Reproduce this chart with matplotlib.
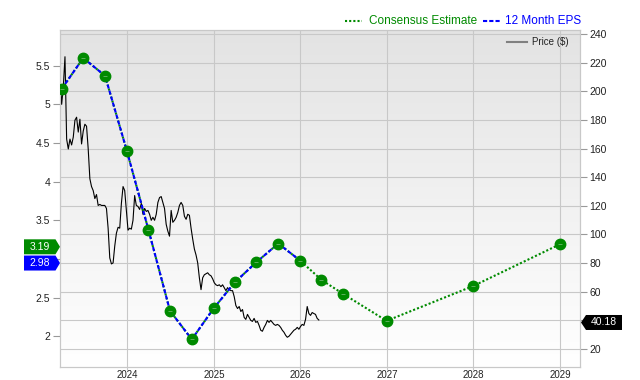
import matplotlib

matplotlib.use("Agg")
import matplotlib.dates as mdates
import matplotlib.pyplot as plt
import matplotlib.transforms as mtransforms
import numpy as np
import pandas as pd
from matplotlib.colors import LinearSegmentedColormap
from matplotlib.lines import Line2D
from matplotlib.patches import Polygon

plt.rcParams["font.family"] = ["Liberation Sans", "DejaVu Sans"]

# 12 month EPS (reported) and consensus estimates, quarter / year ends
eps_dates = pd.to_datetime([
    "2023-03-31", "2023-06-30", "2023-09-30", "2023-12-31",
    "2024-03-31", "2024-06-30", "2024-09-30", "2024-12-31",
    "2025-03-31", "2025-06-30", "2025-09-30", "2025-12-31",
])
eps_values = [5.20, 5.60, 5.37, 4.40, 3.38, 2.33, 1.96, 2.36, 2.70, 2.96, 3.20, 2.98]

est_dates = pd.to_datetime(["2026-03-31", "2026-06-30", "2026-12-31", "2027-12-31", "2028-12-31"])
est_values = [2.73, 2.55, 2.20, 2.65, 3.19]

# weekly closing price
price_start = "2023-03-24"
price_values = [
    210.4, 191.0, 203.5, 224.3, 166.7, 159.8, 166.7, 162.6, 168.1, 179.9,
    182.0, 171.6, 180.6, 163.3, 172.3, 177.1, 175.7, 159.8, 139.0, 133.5,
    130.7, 125.1, 127.9, 120.3, 121.0, 120.3, 120.3, 120.3, 118.2, 104.4,
    83.6, 79.4, 80.1, 91.9, 100.9, 105.0, 104.4, 121.7, 133.5, 130.7,
    116.8, 103.0, 104.4, 103.7, 109.9, 127.2, 120.3, 119.6, 117.5, 121.7,
    114.1, 118.2, 116.1, 116.8, 114.1, 109.9, 112.0, 109.9, 114.1, 122.4,
    125.8, 126.5, 122.4, 118.2, 107.1, 102.3, 98.8, 116.8, 108.5, 109.9,
    112.0, 115.4, 120.3, 122.4, 120.3, 112.7, 110.6, 114.1, 113.4, 104.4,
    96.7, 89.8, 85.6, 80.1, 69.7, 61.4, 69.7, 71.8, 72.5, 73.2,
    71.8, 71.1, 69.0, 66.2, 64.8, 64.2, 64.8, 63.5, 64.8, 62.8,
    60.7, 62.8, 61.4, 60.7, 60.7, 56.5, 50.3, 48.2, 49.6, 46.1,
    47.5, 42.0, 40.6, 44.1, 42.0, 39.9, 39.2, 41.3, 38.5, 39.2,
    36.4, 33.0, 32.3, 35.0, 37.1, 39.9, 38.5, 39.9, 38.5, 37.1,
    36.4, 37.1, 36.4, 35.0, 33.0, 31.6, 29.5, 28.1, 28.8, 30.2,
    31.6, 33.0, 33.7, 35.0, 33.7, 35.7, 37.1, 36.4, 40.6, 49.6,
    44.7, 43.4, 45.4, 44.7, 44.1, 41.3, 40.18,
]
price_dates = pd.date_range(price_start, periods=len(price_values), freq="7D")

eps_ticks = [2, 2.5, 3, 3.5, 4, 4.5, 5, 5.5]
price_ticks = list(range(20, 241, 20))

GREEN = "#008a00"
BLUE = "#0000ff"
GRID = "#c8c8c8"

fig = plt.figure(figsize=(6.4, 3.8), dpi=100)
ax = fig.add_axes([60 / 640, 13 / 380, 520 / 640, 337 / 380])  # price, right axis
ax2 = ax.twinx()  # EPS, left axis

# soft vertical gradient behind the plot
cmap = LinearSegmentedColormap.from_list("bg", ["#ffffff", "#e3e3e3"])
ax.imshow(np.linspace(0, 1, 256)[:, None], extent=(0, 1, 0, 1), origin="lower",
          transform=ax.transAxes, aspect="auto", cmap=cmap, zorder=0)

ax.plot(price_dates, price_values, color="black", lw=0.8, zorder=3)

all_dates = list(eps_dates) + list(est_dates)
all_values = eps_values + est_values
ax2.plot(all_dates, all_values, color=GREEN, lw=1.5, ls=(0, (1, 1)), zorder=2)
ax2.plot(eps_dates, eps_values, color=BLUE, lw=1.5, ls=(0, (2, 1)), zorder=3)
ax2.plot(all_dates, all_values, ls="none", marker="o", ms=7.5, color=GREEN, zorder=4)
ax2.plot(all_dates, all_values, ls="none", marker="_", ms=3.5, mew=0.7,
         color="#5cb05c", zorder=5)

xmin, xmax = pd.Timestamp("2023-03-24"), pd.Timestamp("2029-03-26")
ax.set_xlim(xmin, xmax)
ax.set_ylim(7.3, 243)
ax2.set_ylim(1.603, 5.962)

ax.xaxis.set_major_locator(mdates.YearLocator())
ax.xaxis.set_major_formatter(mdates.DateFormatter("%Y"))
ax.yaxis.tick_right()
ax.set_yticks(price_ticks)
# the 40 label sits under the last price flag
ax.set_yticklabels(["" if t == 40 else str(t) for t in price_ticks])
ax2.yaxis.tick_left()
ax2.set_yticks(eps_ticks)
# the 3 label sits under the EPS flags
ax2.set_yticklabels(["" if t == 3 else f"{t:g}" for t in eps_ticks])

ax.grid(True, color=GRID, lw=0.8, zorder=1)
ax.set_axisbelow(True)
for a in (ax, ax2):
    for s in a.spines.values():
        s.set_color(GRID)
        s.set_linewidth(0.8)
ax.tick_params(axis="x", length=2, pad=0, color=GRID, labelsize=7, labelcolor="#222222")
ax.tick_params(axis="y", length=5, pad=1.5, color="#999999", labelsize=7.5, labelcolor="#222222")
ax2.tick_params(axis="y", length=5, pad=2, color="#999999", labelsize=7.5, labelcolor="#222222")

# legends
ft = fig.transFigure
yl = 1 - 21 / 380
fig.add_artist(Line2D([345 / 640, 362 / 640], [yl, yl], transform=ft, color=GREEN, lw=1.5, ls=(0, (1, 1))))
fig.text(369 / 640, yl, "Consensus Estimate", color=GREEN, fontsize=8.5, va="center")
fig.add_artist(Line2D([483 / 640, 500 / 640], [yl, yl], transform=ft, color=BLUE, lw=1.5, ls=(0, (2, 1))))
fig.text(505 / 640, yl, "12 Month EPS", color=BLUE, fontsize=8.5, va="center")
yp = 1 - 42 / 380
fig.add_artist(Line2D([507 / 640, 527 / 640], [yp, yp], transform=ft, color="#808080", lw=1.5))
fig.text(532 / 640, yp, "Price ($)", color="#222222", fontsize=7, va="center")

# value flags on the axes
ident = mtransforms.IdentityTransform()


def flag(axis, date, value, color, label, side):
    px, py = axis.transData.transform((mdates.date2num(date), value))
    py -= 2.5
    h = 7.5
    if side == "left":
        tip = ax.transAxes.transform((0, 0))[0]
        pts = [(tip, py), (tip - 4.5, py + h), (tip - 36, py + h), (tip - 36, py - h), (tip - 4.5, py - h)]
        tx = tip - 20
    else:
        tip = ax.transAxes.transform((1, 0))[0] + 1
        pts = [(tip, py), (tip + 5, py + h), (tip + 41, py + h), (tip + 41, py - h), (tip + 5, py - h)]
        tx = tip + 23
    fig.add_artist(Polygon(pts, closed=True, transform=ident, color=color, lw=0))
    fig.text(tx, py, label, transform=ident, color="white", fontsize=7.5, ha="center", va="center")


flag(ax2, est_dates[-1], est_values[-1], GREEN, f"{est_values[-1]:.2f}", "left")
flag(ax2, eps_dates[-1], eps_values[-1], BLUE, f"{eps_values[-1]:.2f}", "left")
flag(ax, price_dates[-1], price_values[-1], "black", f"{price_values[-1]:.2f}", "right")

fig.savefig("out.png", dpi=100)
